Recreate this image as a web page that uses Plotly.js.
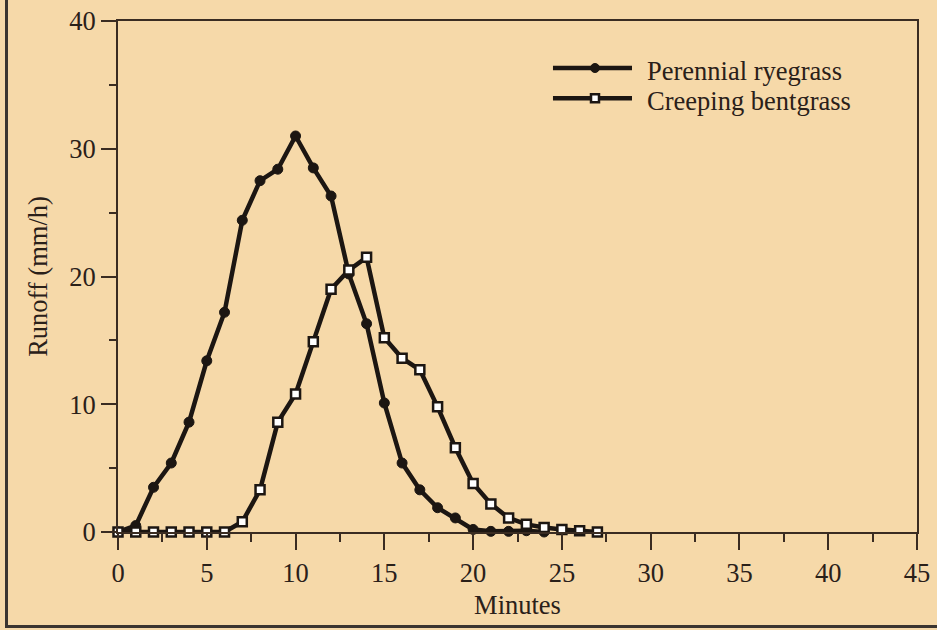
<!DOCTYPE html>
<html>
<head>
<meta charset="utf-8">
<script src="https://cdn.plot.ly/plotly-3.0.1.min.js"></script>
<style>
  html, body { margin: 0; padding: 0; background: #f6d9a9; }
  #wrap { position: relative; width: 937px; height: 630px; overflow: hidden; }
  #chart { width: 937px; height: 630px; }
  #frame { position: absolute; left: 5px; top: -5px; width: 940px; height: 633px; box-sizing: border-box;
           border-left: 3px solid #3b3530; border-bottom: 3px solid #3b3530; pointer-events: none; }
</style>
</head>
<body>
<div id="wrap"><div id="chart"></div><div id="frame"></div></div>
<script>
// Data
const minutesRye = [0,1,2,3,4,5,6,7,8,9,10,11,12,13,14,15,16,17,18,19,20,21,22,23,24];
const perennialRyegrass = [0,0.5,3.5,5.4,8.6,13.4,17.2,24.4,27.5,28.4,31.0,28.5,26.3,20.2,16.3,10.1,5.4,3.3,1.9,1.1,0.2,0.05,0.05,0.1,0];
const minutesBent = [0,1,2,3,4,5,6,7,8,9,10,11,12,13,14,15,16,17,18,19,20,21,22,23,24,25,26,27];
const creepingBentgrass = [0,0,0,0,0,0,0,0.8,3.3,8.6,10.8,14.9,19.0,20.5,21.5,15.2,13.6,12.7,9.8,6.6,3.8,2.2,1.1,0.6,0.35,0.2,0.1,0];
const seriesNames = ["Perennial ryegrass", "Creeping bentgrass"];
const xTicks = [0,5,10,15,20,25,30,35,40,45];
const yTicks = [0,10,20,30,40];

const ink = "#1c1612";
const axisInk = "#3a2c22";
const textInk = "#2a2019";
const bg = "#f6d9a9";
const fontFam = "Liberation Serif, Times New Roman, serif";
const fs = 26.5;

const traces = [
  {
    x: minutesRye, y: perennialRyegrass, name: seriesNames[0],
    type: "scatter", mode: "lines+markers", cliponaxis: false,
    line: { color: ink, width: 4.5 },
    marker: { symbol: "circle", size: 10, color: ink, line: { color: ink, width: 1 } }
  },
  {
    x: minutesBent, y: creepingBentgrass, name: seriesNames[1],
    type: "scatter", mode: "lines+markers", cliponaxis: false,
    line: { color: ink, width: 4.5 },
    marker: { symbol: "square", size: 9, color: "#ffffff", line: { color: ink, width: 2.5 } }
  }
];

// Custom legend (long line samples as in the original figure)
const legendRows = [0.908, 0.849];
const legendSymbols = ["circle", "square"];
const shapes = [];
const annotations = [];
seriesNames.forEach((name, i) => {
  const yy = legendRows[i];
  shapes.push({ type: "line", xref: "paper", yref: "paper", x0: 0.5444, x1: 0.6433, y0: yy, y1: yy,
                line: { color: ink, width: 4.5 } });
  if (legendSymbols[i] === "circle") {
    shapes.push({ type: "circle", xref: "paper", yref: "paper", xsizemode: "pixel", ysizemode: "pixel",
                  xanchor: 0.597, yanchor: yy, x0: -4.5, x1: 4.5, y0: -4.5, y1: 4.5,
                  fillcolor: ink, line: { color: ink, width: 1 } });
  } else {
    shapes.push({ type: "rect", xref: "paper", yref: "paper", xsizemode: "pixel", ysizemode: "pixel",
                  xanchor: 0.597, yanchor: yy, x0: -4, x1: 4, y0: -4, y1: 4,
                  fillcolor: "#ffffff", line: { color: ink, width: 2.5 } });
  }
  annotations.push({ text: name, xref: "paper", yref: "paper", x: 0.6596, y: yy, xanchor: "left", yanchor: "middle",
                     showarrow: false, yshift: -3, font: { family: fontFam, size: fs, color: textInk } });
});

const layout = {
  width: 937, height: 630,
  paper_bgcolor: bg, plot_bgcolor: bg,
  margin: { l: 118, r: 20, t: 21, b: 98 },
  font: { family: fontFam, size: fs, color: textInk },
  showlegend: false,
  shapes: shapes,
  annotations: annotations,
  xaxis: {
    range: [0, 45], tickvals: xTicks, ticktext: xTicks.map(String),
    ticks: "outside", ticklen: 16, tickwidth: 2, tickcolor: axisInk,
    minor: { dtick: 2.5, tick0: 0, ticks: "outside", ticklen: 8, tickwidth: 2, tickcolor: axisInk, showgrid: false },
    showline: true, linecolor: axisInk, linewidth: 2, mirror: true,
    showgrid: false, zeroline: false,
    title: { text: "Minutes", standoff: 9, font: { size: fs } },
    tickfont: { size: fs }
  },
  yaxis: {
    range: [0, 40], tickvals: yTicks, ticktext: yTicks.map(String),
    ticks: "outside", ticklen: 15, tickwidth: 2, tickcolor: axisInk,
    minor: { dtick: 5, tick0: 0, ticks: "outside", ticklen: 7, tickwidth: 2, tickcolor: axisInk, showgrid: false },
    showline: true, linecolor: axisInk, linewidth: 2, mirror: true,
    showgrid: false, zeroline: false,
    title: { text: "Runoff (mm/h)", standoff: 14, font: { size: fs } },
    tickfont: { size: fs }
  }
};

Plotly.newPlot("chart", traces, layout, { displayModeBar: false, staticPlot: true });
</script>
</body>
</html>
